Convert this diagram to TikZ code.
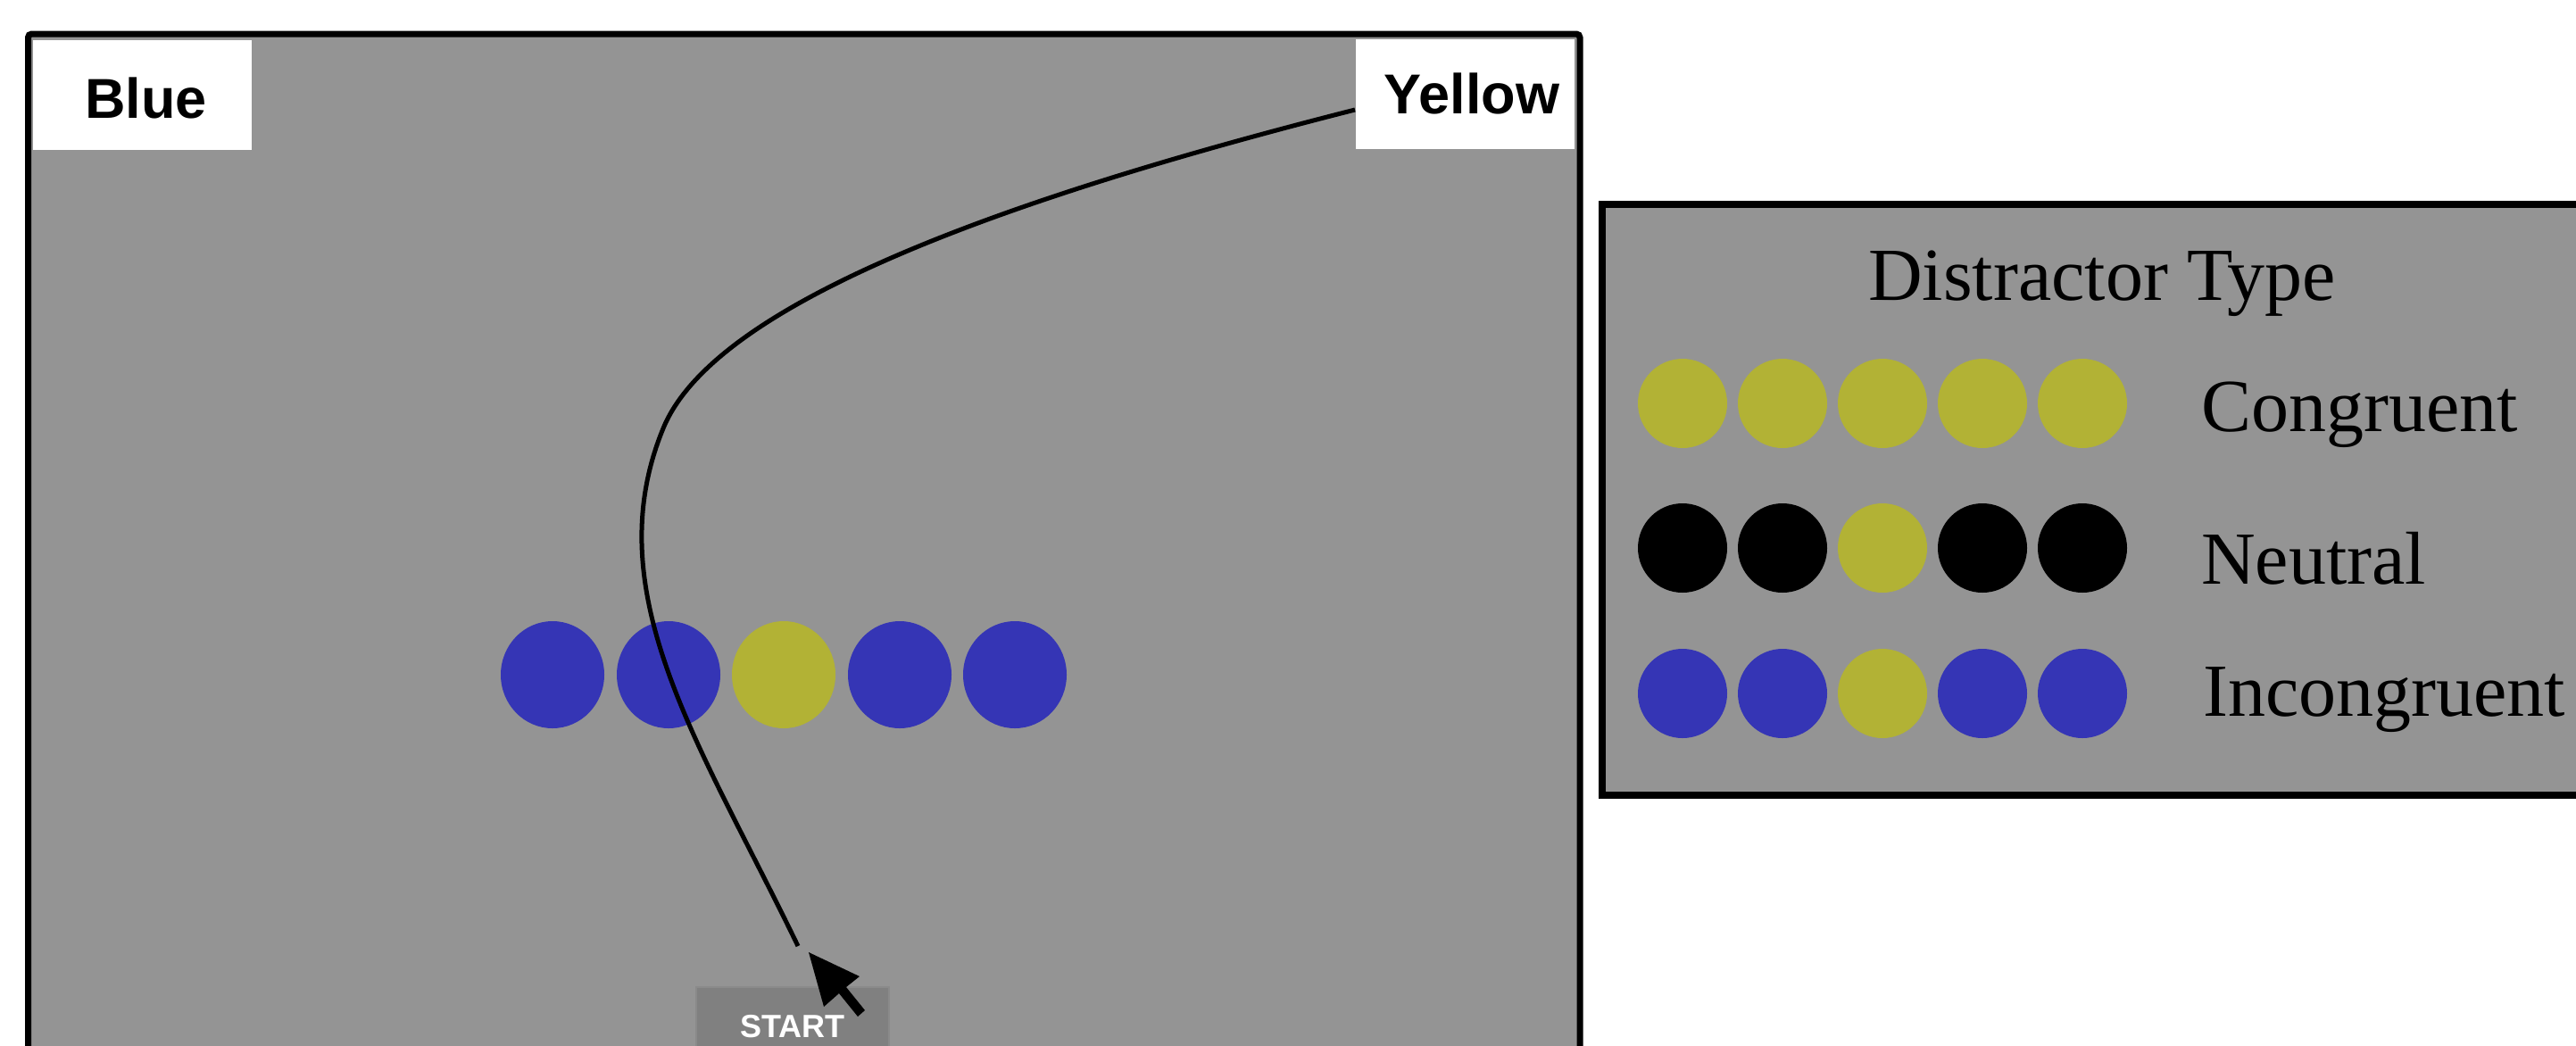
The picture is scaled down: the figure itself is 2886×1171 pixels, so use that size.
\documentclass[tikz,border=0pt]{standalone}
\usepackage{fontspec}
\setmainfont{Liberation Serif}
\newfontfamily\sansf{Liberation Sans}
\usetikzlibrary{shapes.geometric}
\definecolor{bggray}{RGB}{148,148,148}
\definecolor{dotblue}{RGB}{53,53,181}
\definecolor{dotyellow}{RGB}{178,178,53}
\definecolor{btngray}{RGB}{128,128,128}
\definecolor{btnedge}{RGB}{138,138,138}
\begin{document}
\begin{tikzpicture}[x=1pt,y=-1pt,
  bigdot/.style={ellipse, minimum width=116pt, minimum height=120pt, inner sep=0pt, draw=none},
  smalldot/.style={circle, minimum size=100pt, inner sep=0pt, draw=none},
  whitebox/.style={fill=white, inner sep=0pt, minimum width=245pt, minimum height=123pt},
  choicetext/.style={anchor=base, inner sep=0pt, font=\sansf\bfseries\fontsize{63}{63}\selectfont},
  legendtext/.style={anchor=base west, inner sep=0pt, font=\fontsize{84}{84}\selectfont},
  trajectory/.style={line width=5pt, line join=round}]
\useasboundingbox (0,0) rectangle (2886,1171);
\clip (0,0) rectangle (2886,1171);
\fill[white] (0,0) rectangle (2886,1171);

% main panel
\draw[line width=7pt, fill=bggray, rounded corners=4pt] (31.5,38) rectangle (1770,1400);

% response boxes
\node[whitebox] (bluebox) at (159.5,106.5) {};
\node[choicetext] (bluetxt) at (163.5,132) {Blue};
\node[whitebox] (yellowbox) at (1641.5,105.5) {};
\node[choicetext] (yellowtxt) at (1649,127) {Yellow};

% stimulus row
\foreach \c/\x [count=\i] in {dotblue/619, dotblue/749, dotyellow/878, dotblue/1008, dotblue/1137}
  \node[bigdot, fill=\c] (d\i) at (\x,756) {};

% start button
\draw[fill=btngray, draw=btnedge, line width=2pt] (780,1106) rectangle (996,1260);
\node[anchor=base, inner sep=0pt, text=white, font=\sansf\bfseries\fontsize{36}{36}\selectfont] (start) at (888,1162) {START};

% trajectory
\coordinate (trajstart) at (1518,123);
\coordinate (trajbend) at (743,480);
\coordinate (trajend) at (894,1060);
\draw[trajectory] (trajstart) .. controls (1118,224.6) and (800,341) .. (trajbend)
                              .. controls (667,665) and (785.5,835) .. (trajend);

% cursor
\fill (906,1067) -- (923,1128) -- (940,1113) -- (961,1139) -- (969,1132) -- (948,1106) -- (963,1094) -- cycle;

% legend
\draw[line width=8.5pt, fill=bggray] (1795,229) rectangle (3000,891);
\node[anchor=base, inner sep=0pt, font=\fontsize{84}{84}\selectfont] (ltitle) at (2355,336) {Distractor Type};
\foreach \c [count=\i from 0] in {dotyellow,dotyellow,dotyellow,dotyellow,dotyellow}
  \node[smalldot, fill=\c] (cg\i) at ({1885+112*\i},452) {};
\foreach \c [count=\i from 0] in {black,black,dotyellow,black,black}
  \node[smalldot, fill=\c] (ne\i) at ({1885+112*\i},614) {};
\foreach \c [count=\i from 0] in {dotblue,dotblue,dotyellow,dotblue,dotblue}
  \node[smalldot, fill=\c] (in\i) at ({1885+112*\i},777) {};
\node[legendtext] (lcong) at (2466,483) {Congruent};
\node[legendtext] (lneut) at (2466,654) {Neutral};
\node[legendtext] (lincong) at (2468,802) {Incongruent};
\end{tikzpicture}
\end{document}
